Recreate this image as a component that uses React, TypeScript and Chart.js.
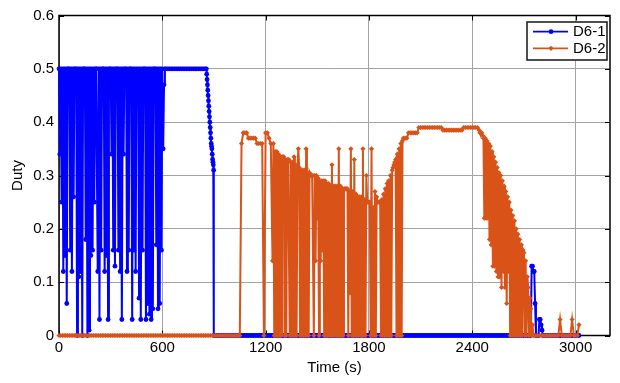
import React, { useEffect, useRef } from "react";
import { Chart, registerables } from "chart.js";

Chart.register(...registerables);

// ---- axes ----
const X_TICKS = [0, 600, 1200, 1800, 2400, 3000];
const Y_TICKS = [0, 0.1, 0.2, 0.3, 0.4, 0.5, 0.6];
const X_MAX = 3200;
const Y_MAX = 0.6;

// ---- data: each piece is [start time (s), sample period (s)] + values ----
// D6-1, t = 0 … 615 s (5 s)
const d61Startup = [
  0.5, 0.34, 0.5, 0.25, 0.5, 0.12, 0.5, 0.15, 0.5, 0.06,
  0.5, 0.5, 0.5, 0.16, 0.5, 0.12, 0.5, 0.26, 0.5, 0.5,
  0.5, 0, 0.5, 0.11, 0.5, 0.12, 0.5, 0, 0.5, 0.5,
  0.5, 0.18, 0.5, 0, 0.5, 0.01, 0.5, 0.15, 0.5, 0.16,
  0.5, 0.25, 0.5, 0.5, 0.5, 0.12, 0.5, 0.03, 0.5, 0.16,
  0.5, 0.5, 0.5, 0.12, 0.5, 0.15, 0.5, 0.03, 0.5, 0.5,
  0.5, 0.34, 0.5, 0.16, 0.5, 0.13, 0.5, 0.5, 0.5, 0.16,
  0.5, 0.12, 0.5, 0.03, 0.5, 0.34, 0.5, 0.5, 0.5, 0.12,
  0.5, 0.16, 0.5, 0.5, 0.5, 0.03, 0.5, 0.16, 0.5, 0.12,
  0.5, 0.45, 0.5, 0.07, 0.5, 0.03, 0.5, 0.16, 0.5, 0.5,
  0.5, 0.03, 0.5, 0.06, 0.5, 0.04, 0.5, 0.03, 0.5, 0.05,
  0.5, 0.5, 0.5, 0.17, 0.5, 0.05, 0.5, 0.06, 0.5, 0.16,
  0.5, 0.35, 0.47, 0.5,
];
// D6-1, t = 620 … 850 s (10 s)
const d61Hold = [
  0.5, 0.5, 0.5, 0.5, 0.5, 0.5, 0.5, 0.5, 0.5, 0.5, 0.5, 0.5,
  0.5, 0.5, 0.5, 0.5, 0.5, 0.5, 0.5, 0.5, 0.5, 0.5, 0.5, 0.5,
];
// D6-1, t = 856 … 898 s (2 s)
const d61Ramp = [
  0.5, 0.49, 0.48, 0.47, 0.46, 0.45, 0.44, 0.43, 0.42, 0.41, 0.4,
  0.39, 0.38, 0.37, 0.36, 0.355, 0.35, 0.34, 0.33, 0.325, 0.32, 0.31,
];
// D6-1, t = 900 … 2740 s (10 s)
const d61Idle = [
  0, 0, 0, 0, 0, 0, 0, 0, 0, 0, 0, 0, 0, 0, 0, 0, 0, 0, 0, 0,
  0, 0, 0, 0, 0, 0, 0, 0, 0, 0, 0, 0, 0, 0, 0, 0, 0, 0, 0, 0,
  0, 0, 0, 0, 0, 0, 0, 0, 0, 0, 0, 0, 0, 0, 0, 0, 0, 0, 0, 0,
  0, 0, 0, 0, 0, 0, 0, 0, 0, 0, 0, 0, 0, 0, 0, 0, 0, 0, 0, 0,
  0, 0, 0, 0, 0, 0, 0, 0, 0, 0, 0, 0, 0, 0, 0, 0, 0, 0, 0, 0,
  0, 0, 0, 0, 0, 0, 0, 0, 0, 0, 0, 0, 0, 0, 0, 0, 0, 0, 0, 0,
  0, 0, 0, 0, 0, 0, 0, 0, 0, 0, 0, 0, 0, 0, 0, 0, 0, 0, 0, 0,
  0, 0, 0, 0, 0, 0, 0, 0, 0, 0, 0, 0, 0, 0, 0, 0, 0, 0, 0, 0,
  0, 0, 0, 0, 0, 0, 0, 0, 0, 0, 0, 0, 0, 0, 0, 0, 0, 0, 0, 0,
  0, 0, 0, 0, 0,
];
// D6-1, t = 2745 … 2810 s (5 s)
const d61Blip = [0.13, 0.13, 0.12, 0.12, 0.06, 0, 0, 0, 0, 0.03, 0.03, 0.02, 0.01, 0];
// D6-1, t = 2820 … 3020 s (10 s)
const d61End = [0, 0, 0, 0, 0, 0, 0, 0, 0, 0, 0, 0, 0, 0, 0, 0, 0, 0, 0, 0, 0];

// D6-2, t = 0 … 1050 s (10 s)
const d62Off = [
  0, 0, 0, 0, 0, 0, 0, 0, 0, 0, 0, 0, 0, 0, 0, 0, 0, 0, 0, 0,
  0, 0, 0, 0, 0, 0, 0, 0, 0, 0, 0, 0, 0, 0, 0, 0, 0, 0, 0, 0,
  0, 0, 0, 0, 0, 0, 0, 0, 0, 0, 0, 0, 0, 0, 0, 0, 0, 0, 0, 0,
  0, 0, 0, 0, 0, 0, 0, 0, 0, 0, 0, 0, 0, 0, 0, 0, 0, 0, 0, 0,
  0, 0, 0, 0, 0, 0, 0, 0, 0, 0, 0, 0, 0, 0, 0, 0, 0, 0, 0, 0,
  0, 0, 0, 0, 0, 0,
];
// D6-2, t = 1060 … 1230 s (10 s)
const d62Start = [
  0.36, 0.38, 0.38, 0.38, 0.37, 0.37, 0.37, 0.37, 0.37,
  0.36, 0.36, 0.36, 0.36, 0, 0.38, 0.38, 0.37, 0.36,
];
// D6-2, t = 1240 … 1995 s (5 s)
const d62Chatter = [
  0.14, 0.36, 0, 0.345, 0, 0.345, 0, 0.34, 0, 0.335,
  0, 0.335, 0.335, 0.335, 0, 0.33, 0, 0.33, 0.33, 0.33,
  0, 0.325, 0, 0.325, 0, 0.335, 0, 0.32, 0, 0.315,
  0.35, 0.315, 0, 0.31, 0, 0.31, 0, 0.31, 0, 0.35,
  0, 0.305, 0, 0.305, 0.3, 0.3, 0.3, 0.3, 0, 0.3,
  0.14, 0.3, 0.22, 0.295, 0, 0.29, 0.14, 0.29, 0.16, 0.29,
  0, 0.29, 0, 0.285, 0, 0.285, 0, 0.28, 0, 0.32,
  0, 0.28, 0, 0.28, 0, 0.28, 0, 0.35, 0, 0.28,
  0, 0.275, 0, 0.275, 0.275, 0.275, 0.275, 0.275, 0, 0.27,
  0.08, 0.35, 0, 0.27, 0, 0.33, 0, 0.265, 0, 0.26,
  0, 0.26, 0, 0.26, 0, 0.35, 0, 0.255, 0, 0.3,
  0.25, 0.25, 0.25, 0.25, 0, 0.35, 0, 0.24, 0, 0.27,
  0, 0.26, 0.25, 0.25, 0.25, 0.25, 0, 0.255, 0, 0.265,
  0, 0.275, 0, 0.285, 0, 0.29, 0, 0.3, 0, 0.31,
  0.315, 0.32, 0.325, 0.33, 0, 0.34, 0, 0.35, 0, 0.36,
  0, 0.365,
];
// D6-2, t = 2000 … 2430 s (10 s)
const d62Plateau = [
  0.37, 0.37, 0.37, 0.38, 0.38, 0.38, 0.38, 0.38, 0.38, 0.39,
  0.39, 0.39, 0.39, 0.39, 0.39, 0.39, 0.39, 0.39, 0.39, 0.39, 0.39, 0.39, 0.39,
  0.385, 0.385, 0.385, 0.385, 0.385, 0.385, 0.385, 0.385, 0.385, 0.385, 0.385, 0.385,
  0.39, 0.39, 0.39, 0.39, 0.39, 0.39, 0.39, 0.39, 0.39,
];
// D6-2, t = 2440 … 2755 s (5 s)
const d62Decline = [
  0.385, 0.38, 0.38, 0.38, 0.375, 0.37, 0.22, 0.37, 0.22, 0.365,
  0.22, 0.36, 0.18, 0.355, 0.17, 0.345, 0.13, 0.335, 0.13, 0.325,
  0.12, 0.315, 0.11, 0.305, 0.11, 0.3, 0.09, 0.29, 0.12, 0.28,
  0.09, 0.27, 0.06, 0.26, 0.12, 0.25, 0, 0.235, 0, 0.225,
  0, 0.215, 0, 0.2, 0, 0.19, 0, 0.18, 0, 0.17,
  0, 0.16, 0.155, 0, 0.14, 0, 0.11, 0.09, 0, 0.07,
  0.05, 0, 0.02, 0,
];
// D6-2, t = 2760 … 3020 s (10 s)
const d62Tail = [
  0, 0, 0, 0, 0, 0, 0, 0, 0, 0, 0, 0, 0, 0, 0,
  0.03, 0, 0, 0, 0, 0, 0, 0.03, 0, 0, 0, 0.02,
];

type Piece = [number, number, number[]];
const d61Pieces: Piece[] = [
  [0, 5, d61Startup],
  [620, 10, d61Hold],
  [856, 2, d61Ramp],
  [900, 10, d61Idle],
  [2745, 5, d61Blip],
  [2820, 10, d61End],
];
const d62Pieces: Piece[] = [
  [0, 10, d62Off],
  [1060, 10, d62Start],
  [1240, 5, d62Chatter],
  [2000, 10, d62Plateau],
  [2440, 5, d62Decline],
  [2760, 10, d62Tail],
];

// ---- style ----
const BLUE = "#0000ff";
const ORANGE = "#d95319";
const GRID = "#a3a3a3";
const FONT = '"Liberation Sans", Arial, Helvetica, sans-serif';

const toPoints = (pieces: Piece[]) =>
  pieces.flatMap(([t0, dt, vals]) => vals.map((v, i) => ({ x: t0 + i * dt, y: v })));

const series = [
  { label: "D6-1", pieces: d61Pieces, color: BLUE, style: "circle", radius: 2.4, order: 1 },
  { label: "D6-2", pieces: d62Pieces, color: ORANGE, style: "rectRot", radius: 2.6, order: 0 },
];

const framePlugin = {
  id: "matlabFrame",
  beforeDatasetsDraw(chart: any) {
    const { ctx, chartArea: a, scales } = chart;
    ctx.save();
    ctx.strokeStyle = "#000";
    ctx.lineWidth = 1.5;
    ctx.strokeRect(a.left, a.top, a.right - a.left, a.bottom - a.top);
    ctx.lineWidth = 1;
    const tl = 5;
    ctx.beginPath();
    for (const v of X_TICKS) {
      const x = Math.round(scales.x.getPixelForValue(v)) + 0.5;
      ctx.moveTo(x, a.bottom);
      ctx.lineTo(x, a.bottom - tl);
      ctx.moveTo(x, a.top);
      ctx.lineTo(x, a.top + tl);
    }
    for (const v of Y_TICKS) {
      const y = Math.round(scales.y.getPixelForValue(v)) + 0.5;
      ctx.moveTo(a.left, y);
      ctx.lineTo(a.left + tl, y);
      ctx.moveTo(a.right, y);
      ctx.lineTo(a.right - tl, y);
    }
    ctx.stroke();
    ctx.restore();
  },
  afterDraw(chart: any) {
    const { ctx, chartArea: a } = chart;
    const bw = 80;
    const bh = 38;
    const bx = a.right - bw - 3;
    const by = a.top + 6.5;
    ctx.save();
    ctx.fillStyle = "#fff";
    ctx.fillRect(bx, by, bw, bh);
    ctx.strokeStyle = "#222";
    ctx.lineWidth = 1.6;
    ctx.strokeRect(bx, by, bw, bh);
    series.forEach((s, i) => {
      const y = by + 9.7 + i * 16.6;
      ctx.strokeStyle = s.color;
      ctx.lineWidth = 1.8;
      ctx.beginPath();
      ctx.moveTo(bx + 6, y);
      ctx.lineTo(bx + 41, y);
      ctx.stroke();
      ctx.fillStyle = s.color;
      ctx.beginPath();
      if (s.style === "circle") {
        ctx.arc(bx + 24, y, 2.4, 0, Math.PI * 2);
      } else {
        ctx.moveTo(bx + 24, y - 2.6);
        ctx.lineTo(bx + 26.6, y);
        ctx.lineTo(bx + 24, y + 2.6);
        ctx.lineTo(bx + 21.4, y);
        ctx.closePath();
      }
      ctx.fill();
      ctx.fillStyle = "#000";
      ctx.font = `15px ${FONT}`;
      ctx.textAlign = "left";
      ctx.textBaseline = "middle";
      ctx.fillText(s.label, bx + 46, y + 0.5);
    });
    ctx.restore();
  },
};

export default function App() {
  const canvasRef = useRef<HTMLCanvasElement | null>(null);

  useEffect(() => {
    const canvas = canvasRef.current;
    if (!canvas) return;
    const chart = new Chart(canvas, {
      type: "line",
      data: {
        datasets: series.map((s) => ({
          label: s.label,
          data: toPoints(s.pieces),
          borderColor: s.color,
          backgroundColor: s.color,
          borderWidth: 2,
          pointRadius: s.radius,
          pointStyle: s.style as any,
          pointBorderWidth: 0,
          pointBackgroundColor: s.color,
          tension: 0,
          fill: false,
          order: s.order,
          clip: false as any,
        })),
      },
      options: {
        animation: false,
        responsive: false,
        devicePixelRatio: 1,
        events: [],
        layout: { padding: { left: 0, right: 10, top: 15.5, bottom: 0 } },
        plugins: {
          legend: { display: false },
          tooltip: { enabled: false },
        },
        scales: {
          x: {
            type: "linear",
            min: 0,
            max: X_MAX,
            afterBuildTicks: (scale: any) => {
              scale.ticks = X_TICKS.map((v) => ({ value: v }));
            },
            afterFit: (scale: any) => {
              scale.height = 47.5;
            },
            ticks: {
              color: "#000",
              font: { family: FONT, size: 15 },
              padding: 3.5,
              maxRotation: 0,
              autoSkip: false,
              callback: (v: any) => String(v),
            },
            grid: { color: GRID, lineWidth: 1, drawTicks: false },
            border: { display: false },
            title: {
              display: true,
              text: "Time (s)",
              color: "#000",
              font: { family: FONT, size: 15 },
              padding: { top: 0, bottom: 6.5 },
            },
          },
          y: {
            type: "linear",
            min: 0,
            max: Y_MAX,
            afterBuildTicks: (scale: any) => {
              scale.ticks = Y_TICKS.map((v) => ({ value: v }));
            },
            afterFit: (scale: any) => {
              scale.width = 59;
            },
            ticks: {
              color: "#000",
              font: { family: FONT, size: 15 },
              padding: 5,
              callback: (v: any) => String(Math.round(Number(v) * 10) / 10),
            },
            grid: { color: GRID, lineWidth: 1, drawTicks: false },
            border: { display: false },
            title: {
              display: true,
              text: "Duty",
              color: "#000",
              font: { family: FONT, size: 15 },
              padding: { top: 9, bottom: 0 },
            },
          },
        },
      },
      plugins: [framePlugin],
    });
    return () => chart.destroy();
  }, []);

  return (
    <div style={{ position: "fixed", left: 0, top: 0, width: 620, height: 383, background: "#fff" }}>
      <canvas ref={canvasRef} width={620} height={383} style={{ width: 620, height: 383, display: "block" }} />
    </div>
  );
}
